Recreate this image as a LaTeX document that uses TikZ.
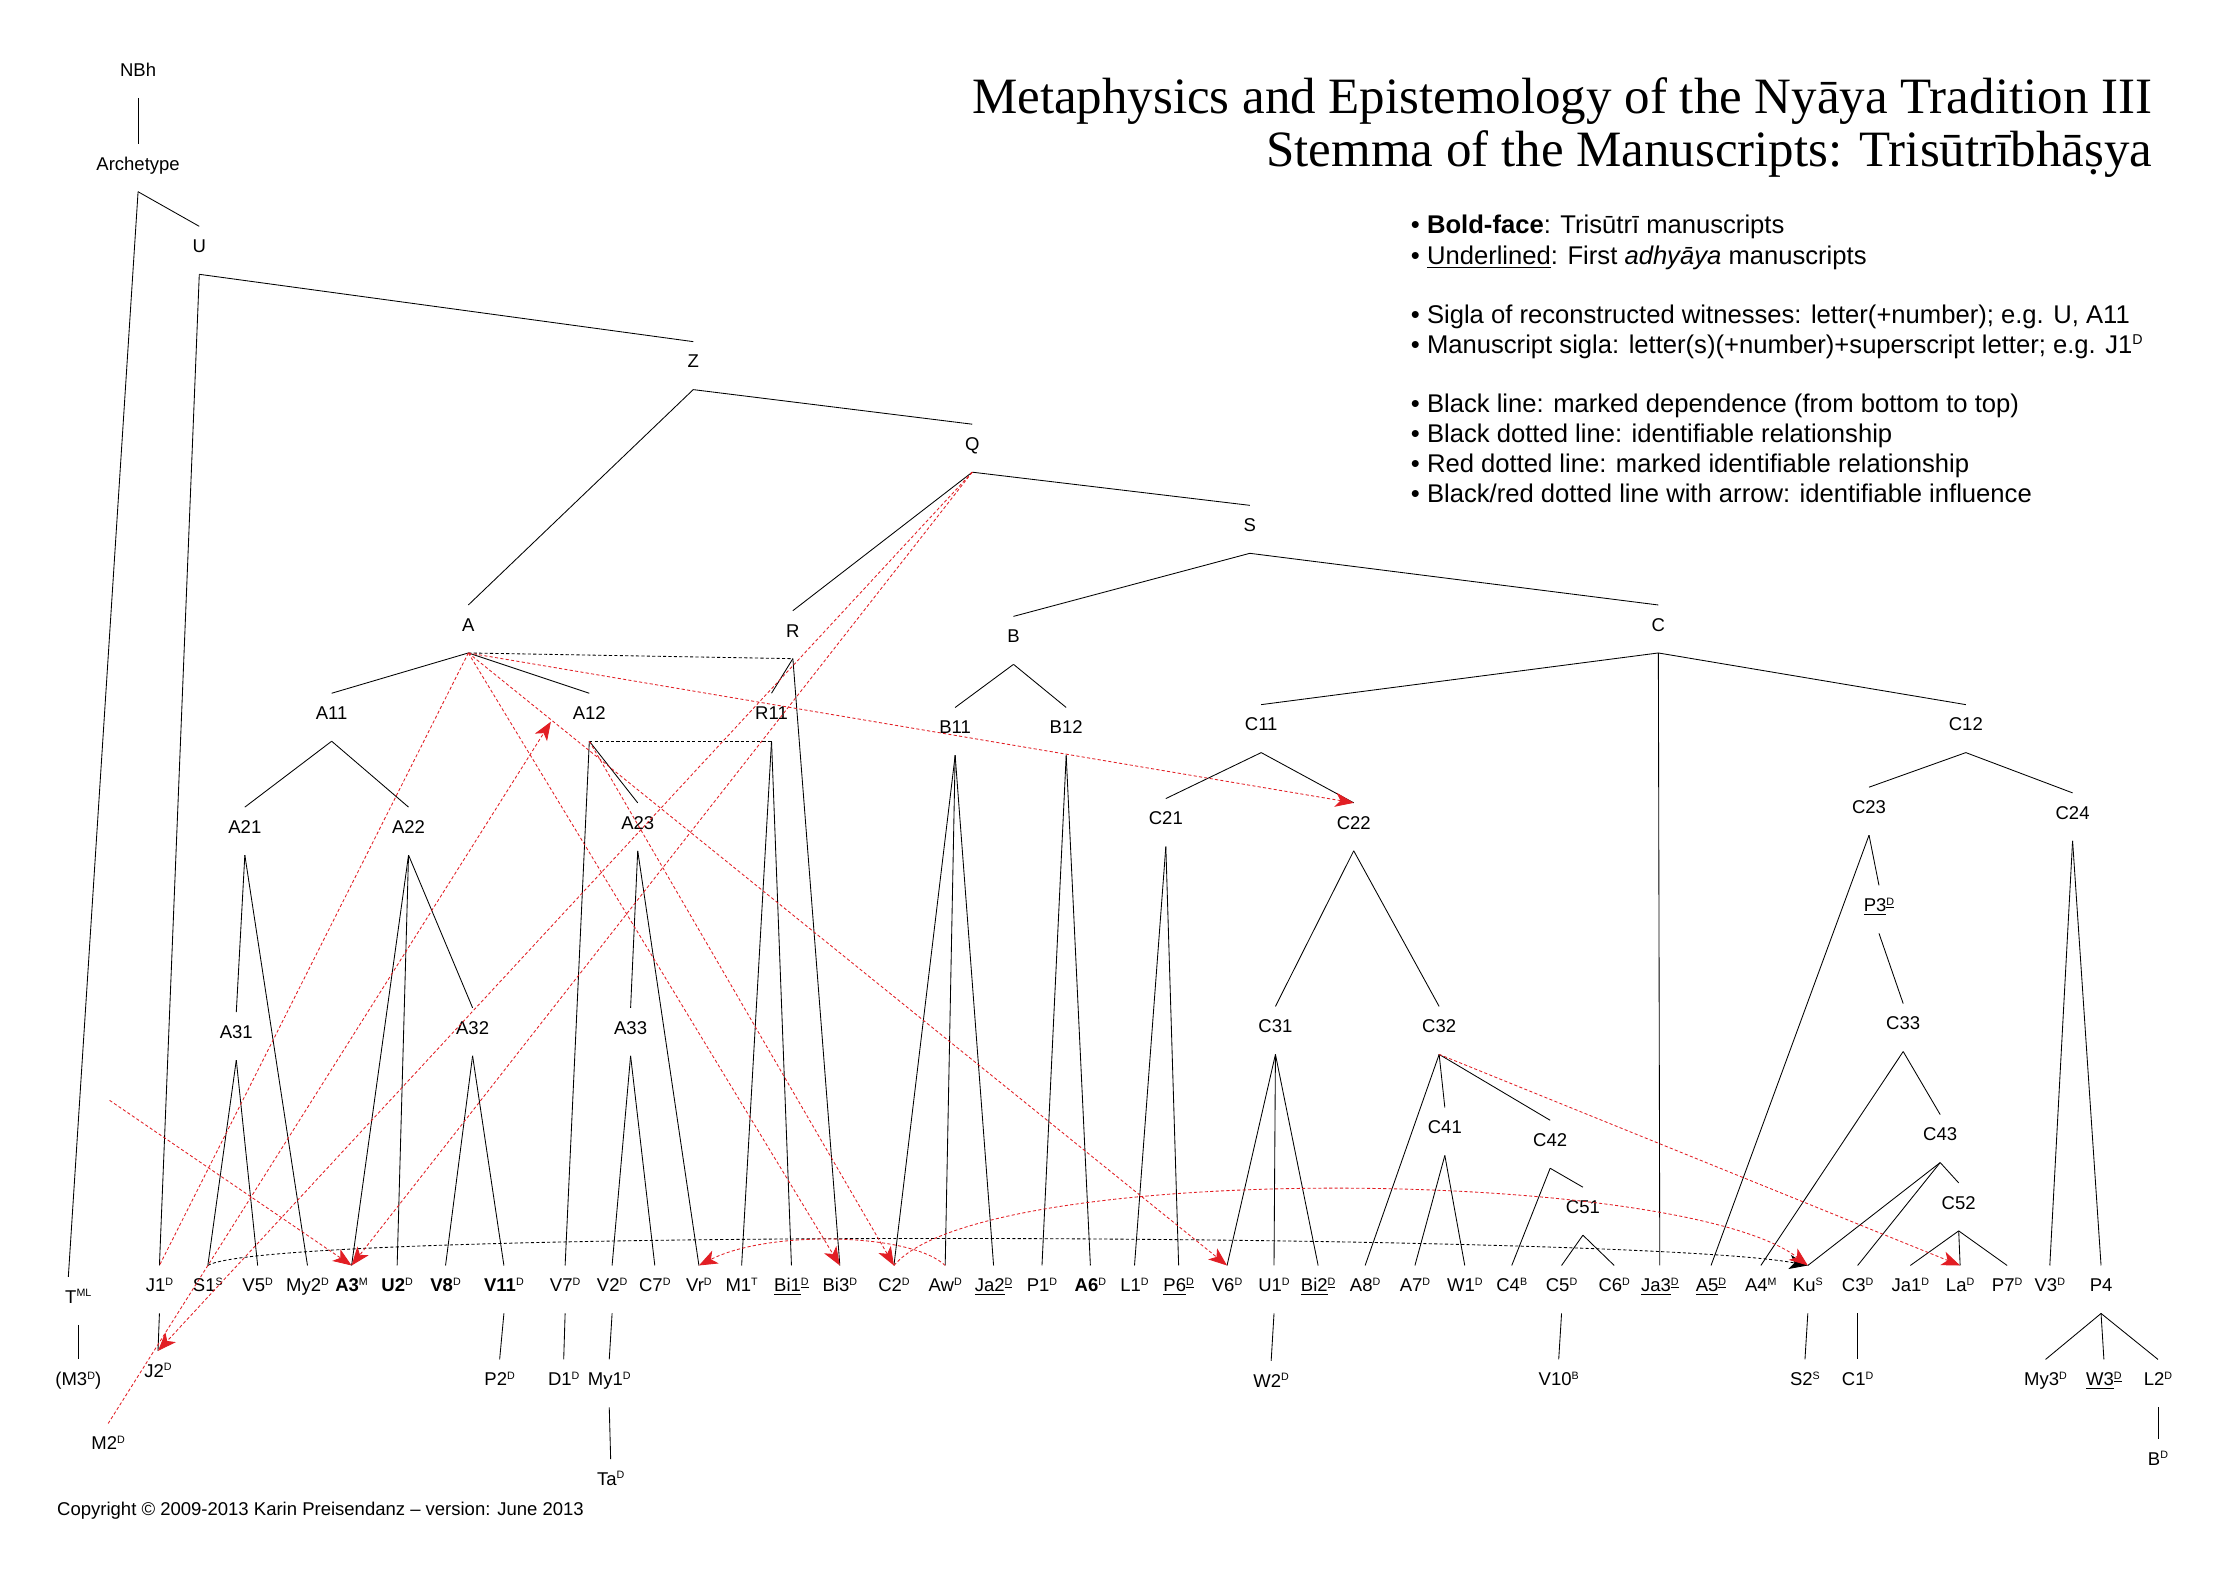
\documentclass[tikz,border=0pt]{standalone}
\usepackage{fontspec}
\setmainfont{Liberation Sans}
\newfontfamily\titlefont{Liberation Serif}
\usetikzlibrary{arrows.meta,calc}
\definecolor{myred}{RGB}{226,30,36}
\newcommand\sps[1]{\raisebox{4.6pt}{\fontsize{7.5}{8}\selectfont #1}}
\newcommand\uln[1]{\underline{#1}}
\begin{document}
\begin{tikzpicture}[x=1pt,y=-1pt,
  lbl/.style={anchor=base, font=\fontsize{13}{15}\selectfont, text height=9.3pt, text depth=6pt, inner xsep=1pt, inner ysep=9pt},
  leg/.style={anchor=base west, font=\fontsize{18}{21}\selectfont, inner sep=0pt},
  ttl/.style={anchor=base east, font=\titlefont\fontsize{35.8}{36}\selectfont, inner sep=0pt},
  e/.style={draw=black, line width=0.6pt},
  rd/.style={draw=myred, line width=0.6pt, dash pattern=on 2.2pt off 1.6pt},
  rda/.style={rd, -{Stealth[length=13pt,width=10pt,inset=3.5pt]}},
  bd/.style={draw=black, line width=0.6pt, dash pattern=on 2.2pt off 1.6pt},
  bda/.style={bd, -{Stealth[length=13pt,width=10pt,inset=3.5pt]}}]
\useasboundingbox (0,0) rectangle (1568,1109);
\fill[white] (0,0) rectangle (1568,1109);
% title and legend
\node[ttl] (t1) at (1512,80) {Metaphysics and Epistemology of the Nyāya Tradition III};
\node[ttl] (t2) at (1512,117) {Stemma of the Manuscripts: Trisūtrībhāṣya};
\node[leg] (l1) at (991,164) {• \textbf{Bold-face}: Trisūtrī manuscripts};
\node[leg] (l2) at (991,186) {• \uln{Underlined}: First \textit{adhyāya} manuscripts};
\node[leg] (l3) at (991,227) {• Sigla of reconstructed witnesses: letter(+number); e.g. U, A11};
\node[leg] (l4) at (991,248) {• Manuscript sigla: letter(s)(+number)+superscript letter; e.g. J1\raisebox{6pt}{\fontsize{10}{10}\selectfont D}};
\node[leg] (l5) at (991,290) {• Black line: marked dependence (from bottom to top)};
\node[leg] (l6) at (991,311) {• Black dotted line: identifiable relationship};
\node[leg] (l7) at (991,332) {• Red dotted line: marked identifiable relationship};
\node[leg] (l8) at (991,353) {• Black/red dotted line with arrow: identifiable influence};
\node[anchor=base west, font=\fontsize{13}{15}\selectfont, inner sep=0pt] (copy) at (40,1064.5) {Copyright © 2009-2013 Karin Preisendanz – version: June 2013};
% reconstructed witnesses
\node[lbl] (NBh) at (97,53.5) {NBh};
\node[lbl] (Arch) at (97,119.5) {Archetype};
\node[lbl] (U) at (140,177.5) {U};
\node[lbl] (Z) at (487,258.5) {Z};
\node[lbl] (Q) at (683,316.5) {Q};
\node[lbl] (S) at (878,373.5) {S};
\node[lbl] (A) at (329,443.5) {A};
\node[lbl] (R) at (557,447.5) {R};
\node[lbl] (B) at (712,451.5) {B};
\node[lbl] (C) at (1165,443.5) {C};
\node[lbl] (A11) at (233,505.5) {A11};
\node[lbl] (A12) at (414,505.5) {A12};
\node[lbl] (R11) at (542,505.5) {R11};
\node[lbl] (B11) at (671,515.5) {B11};
\node[lbl] (B12) at (749,515.5) {B12};
\node[lbl] (C11) at (886,513.5) {C11};
\node[lbl] (C12) at (1381,513.5) {C12};
\node[lbl] (A21) at (172,585.5) {A21};
\node[lbl] (A22) at (287,585.5) {A22};
\node[lbl] (A23) at (448,582.5) {A23};
\node[lbl] (C21) at (819,579.5) {C21};
\node[lbl] (C22) at (951,582.5) {C22};
\node[lbl] (C23) at (1313,571.5) {C23};
\node[lbl] (C24) at (1456,575.5) {C24};
\node[lbl] (P3) at (1320,640.5) {\uln{P3}\sps{\uln{D}}};
\node[lbl] (A31) at (166,729.5) {A31};
\node[lbl] (A32) at (332,726.5) {A32};
\node[lbl] (A33) at (443,726.5) {A33};
\node[lbl] (C31) at (896,725.5) {C31};
\node[lbl] (C32) at (1011,725.5) {C32};
\node[lbl] (C33) at (1337,723.5) {C33};
\node[lbl] (C41) at (1015,796.5) {C41};
\node[lbl] (C42) at (1089,805.5) {C42};
\node[lbl] (C43) at (1363,801.5) {C43};
\node[lbl] (C51) at (1112,852.5) {C51};
\node[lbl] (C52) at (1376,849.5) {C52};
% manuscripts, main row
\node[lbl] (T) at (55,915.5) {T\sps{ML}};
\node[lbl] (J1) at (112,907.5) {J1\sps{D}};
\node[lbl] (S1) at (146,907.5) {S1\sps{S}};
\node[lbl] (V5) at (181,907.5) {V5\sps{D}};
\node[lbl] (My2) at (216,907.5) {My2\sps{D}};
\node[lbl] (A3) at (247,907.5) {\textbf{A3}\sps{M}};
\node[lbl] (U2) at (279,907.5) {\textbf{U2}\sps{D}};
\node[lbl] (V8) at (313,907.5) {\textbf{V8}\sps{D}};
\node[lbl] (V11) at (354,907.5) {\textbf{V11}\sps{D}};
\node[lbl] (V7) at (397,907.5) {V7\sps{D}};
\node[lbl] (V2) at (430,907.5) {V2\sps{D}};
\node[lbl] (C7) at (460,907.5) {C7\sps{D}};
\node[lbl] (Vr) at (491,907.5) {Vr\sps{D}};
\node[lbl] (M1) at (521,907.5) {M1\sps{T}};
\node[lbl] (Bi1) at (556,907.5) {\uln{Bi1}\sps{\uln{D}}};
\node[lbl] (Bi3) at (590,907.5) {Bi3\sps{D}};
\node[lbl] (C2) at (628,907.5) {C2\sps{D}};
\node[lbl] (Aw) at (664,907.5) {Aw\sps{D}};
\node[lbl] (Ja2) at (698,907.5) {\uln{Ja2}\sps{\uln{D}}};
\node[lbl] (P1) at (732,907.5) {P1\sps{D}};
\node[lbl] (A6) at (766,907.5) {\textbf{A6}\sps{D}};
\node[lbl] (L1) at (797,907.5) {L1\sps{D}};
\node[lbl] (P6) at (828,907.5) {\uln{P6}\sps{\uln{D}}};
\node[lbl] (V6) at (862,907.5) {V6\sps{D}};
\node[lbl] (U1) at (895,907.5) {U1\sps{D}};
\node[lbl] (Bi2) at (926,907.5) {\uln{Bi2}\sps{\uln{D}}};
\node[lbl] (A8) at (959,907.5) {A8\sps{D}};
\node[lbl] (A7) at (994,907.5) {A7\sps{D}};
\node[lbl] (W1) at (1029,907.5) {W1\sps{D}};
\node[lbl] (C4) at (1062,907.5) {C4\sps{B}};
\node[lbl] (C5) at (1097,907.5) {C5\sps{D}};
\node[lbl] (C6) at (1134,907.5) {C6\sps{D}};
\node[lbl] (Ja3) at (1166,907.5) {\uln{Ja3}\sps{\uln{D}}};
\node[lbl] (A5) at (1202,907.5) {\uln{A5}\sps{\uln{D}}};
\node[lbl] (A4) at (1237,907.5) {A4\sps{M}};
\node[lbl] (Ku) at (1270,907.5) {Ku\sps{S}};
\node[lbl] (C3) at (1305,907.5) {C3\sps{D}};
\node[lbl] (Ja1) at (1342,907.5) {Ja1\sps{D}};
\node[lbl] (La) at (1377,907.5) {La\sps{D}};
\node[lbl] (P7) at (1410,907.5) {P7\sps{D}};
\node[lbl] (V3) at (1440,907.5) {V3\sps{D}};
\node[lbl] (P4) at (1476,907.5) {P4};
% lower rows
\node[lbl] (M3) at (55,973.5) {(M3\sps{D})};
\node[lbl] (J2) at (111,967.5) {J2\sps{D}};
\node[lbl] (P2) at (351,973.5) {P2\sps{D}};
\node[lbl] (D1) at (396,973.5) {D1\sps{D}};
\node[lbl] (My1) at (428,973.5) {My1\sps{D}};
\node[lbl] (W2) at (893,974.5) {W2\sps{D}};
\node[lbl] (V10) at (1095,973.5) {V10\sps{B}};
\node[lbl] (S2) at (1268,973.5) {S2\sps{S}};
\node[lbl] (C1) at (1305,973.5) {C1\sps{D}};
\node[lbl] (My3) at (1437,973.5) {My3\sps{D}};
\node[lbl] (W3) at (1478,973.5) {\uln{W3}\sps{\uln{D}}};
\node[lbl] (L2) at (1516,973.5) {L2\sps{D}};
\node[lbl] (M2) at (76,1018.5) {M2\sps{D}};
\node[lbl] (Ta) at (429,1043.5) {Ta\sps{D}};
\node[lbl] (Bd) at (1516,1029.5) {B\sps{D}};
% black lines
\draw[e] (NBh.south) -- (Arch.north);
\draw[e] (Arch.south) -- (U.north);
\draw[e] (Arch.south) -- ([xshift=-7pt]T.north);
\draw[e] (U.south) -- (J1.north);
\draw[e] (U.south) -- (Z.north);
\draw[e] (Z.south) -- (A.north);
\draw[e] (Z.south) -- (Q.north);
\draw[e] (Q.south) -- (R.north);
\draw[e] (Q.south) -- (S.north);
\draw[e] (S.south) -- (B.north);
\draw[e] (S.south) -- (C.north);
\draw[e] (A.south) -- (A11.north);
\draw[e] (A.south) -- (A12.north);
\draw[e] (R.south) -- (R11.north);
\draw[e] (R.south) -- (Bi3.north);
\draw[e] (A11.south) -- (A21.north);
\draw[e] (A11.south) -- (A22.north);
\draw[e] (A12.south) -- (A23.north);
\draw[e] (A12.south) -- (V7.north);
\draw[e] (R11.south) -- (M1.north);
\draw[e] (R11.south) -- (Bi1.north);
\draw[e] (B.south) -- (B11.north);
\draw[e] (B.south) -- (B12.north);
\draw[e] (C.south) -- (C11.north);
\draw[e] (C.south) -- (C12.north);
\draw[e] (C.south) -- (Ja3.north);
\draw[e] (A21.south) -- (A31.north);
\draw[e] (A21.south) -- (My2.north);
\draw[e] (A22.south) -- (A3.north);
\draw[e] (A22.south) -- (U2.north);
\draw[e] (A22.south) -- (A32.north);
\draw[e] (A23.south) -- (A33.north);
\draw[e] (A23.south) -- (Vr.north);
\draw[e] (B11.south) -- (C2.north);
\draw[e] (B11.south) -- (Aw.north);
\draw[e] (B11.south) -- (Ja2.north);
\draw[e] (B12.south) -- (P1.north);
\draw[e] (B12.south) -- (A6.north);
\draw[e] (C11.south) -- (C21.north);
\draw[e] (C11.south) -- (C22.north);
\draw[e] (C12.south) -- (C23.north);
\draw[e] (C12.south) -- (C24.north);
\draw[e] (C21.south) -- (L1.north);
\draw[e] (C21.south) -- (P6.north);
\draw[e] (C22.south) -- (C31.north);
\draw[e] (C22.south) -- (C32.north);
\draw[e] (C23.south) -- (A5.north);
\draw[e] (C23.south) -- (P3.north);
\draw[e] (C24.south) -- (V3.north);
\draw[e] (C24.south) -- (P4.north);
\draw[e] (P3.south) -- (C33.north);
\draw[e] (A31.south) -- (S1.north);
\draw[e] (A31.south) -- (V5.north);
\draw[e] (A32.south) -- (V8.north);
\draw[e] (A32.south) -- (V11.north);
\draw[e] (A33.south) -- (V2.north);
\draw[e] (A33.south) -- (C7.north);
\draw[e] (C31.south) -- (V6.north);
\draw[e] (C31.south) -- (U1.north);
\draw[e] (C31.south) -- (Bi2.north);
\draw[e] (C32.south) -- (A8.north);
\draw[e] (C32.south) -- (C41.north);
\draw[e] (C32.south) -- (C42.north);
\draw[e] (C33.south) -- (A4.north);
\draw[e] (C33.south) -- (C43.north);
\draw[e] (C41.south) -- (A7.north);
\draw[e] (C41.south) -- (W1.north);
\draw[e] (C42.south) -- (C4.north);
\draw[e] (C42.south) -- (C51.north);
\draw[e] (C43.south) -- (Ku.north);
\draw[e] (C43.south) -- (C3.north);
\draw[e] (C43.south) -- (C52.north);
\draw[e] (C51.south) -- (C5.north);
\draw[e] (C51.south) -- (C6.north);
\draw[e] (C52.south) -- (Ja1.north);
\draw[e] (C52.south) -- (La.north);
\draw[e] (C52.south) -- (P7.north);
\draw[e] (T.south) -- (M3.north);
\draw[e] (J1.south) -- (J2.north);
\draw[e] (V11.south) -- (P2.north);
\draw[e] (V7.south) -- (D1.north);
\draw[e] (V2.south) -- (My1.north);
\draw[e] (My1.south) -- (Ta.north);
\draw[e] (U1.south) -- (W2.north);
\draw[e] (C5.south) -- (V10.north);
\draw[e] (Ku.south) -- (S2.north);
\draw[e] (C3.south) -- (C1.north);
\draw[e] (P4.south) -- (My3.north);
\draw[e] (P4.south) -- (W3.north);
\draw[e] (P4.south) -- (L2.north);
\draw[e] (L2.south) -- (Bd.north);
% black dotted
\draw[bd] (A.south) -- (R.south);
\draw[bd] (A12.south) -- (R11.south);
\draw[bda] (S1.north) .. controls (190,862) and (1150,866) .. (Ku.north);
% red dotted
\coordinate (fl) at (77,773);
\draw[rda] (A.south) -- (C22.north);
\draw[rd] (A.south) -- (J1.north);
\draw[rda] (A.south) -- (Bi3.north);
\draw[rda] (A.south) -- (V6.north);
\draw[rda] (A12.south) -- (C2.north);
\draw[rda] (Q.south) -- (J2.north);
\draw[rda] (Q.south) -- (A3.north);
\draw[rda] (M2.north) -- ($(A12.base)+(-27,1.5)$);
\draw[rda] (fl) -- (A3.north);
\draw[rda] (Aw.north) .. controls (640,866) and (540,864) .. (Vr.north);
\draw[rda] (C2.north) .. controls (690,815) and (1180,820) .. (Ku.north);
\draw[rda] (C32.south) -- (La.north);
\end{tikzpicture}
\end{document}
